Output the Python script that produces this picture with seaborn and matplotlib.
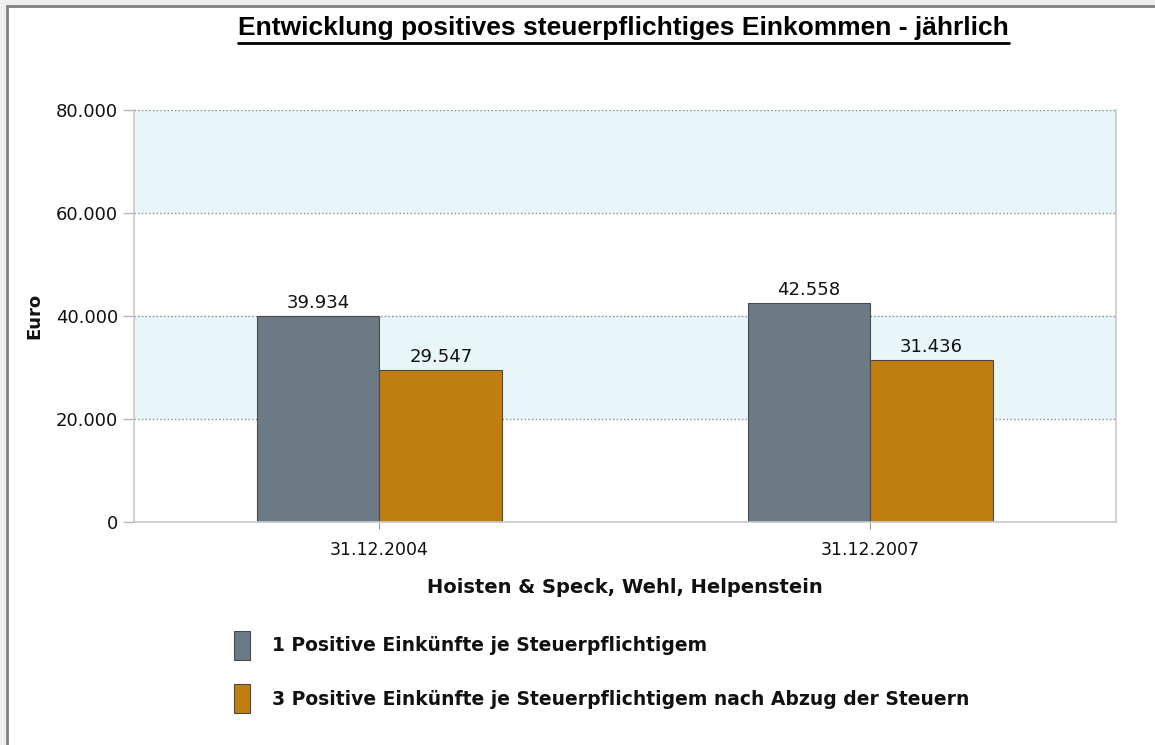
import pandas as pd
import seaborn as sns
import matplotlib.pyplot as plt
from matplotlib.lines import Line2D
from matplotlib.patches import Rectangle

dates = ['31.12.2004', '31.12.2007']
series = ['1 Positive Einkünfte je Steuerpflichtigem',
          '3 Positive Einkünfte je Steuerpflichtigem nach Abzug der Steuern']
einkuenfte = [39934, 42558]
nach_steuern = [29547, 31436]
yticks = [0, 20000, 40000, 60000, 80000]

df = pd.DataFrame({
    'Datum': dates * 2,
    'Euro': einkuenfte + nach_steuern,
    'Reihe': [series[0]] * len(dates) + [series[1]] * len(dates),
})

def de_fmt(v):
    return f'{v:,.0f}'.replace(',', '.')

sns.set_style('white')
plt.rcParams['font.family'] = ['DejaVu Sans']
plt.rcParams['text.color'] = '#111111'
plt.rcParams['axes.labelcolor'] = '#111111'

W, H = 1155, 745
fig = plt.figure(figsize=(W / 100, H / 100), dpi=100, facecolor='#EFEFF2')

# white page with dark top/left border like the screenshot
fig.add_artist(Rectangle((7 / W, 0), 1, 1 - 7 / H, transform=fig.transFigure,
                         facecolor='white', edgecolor='none', zorder=-10))
fig.add_artist(Line2D([7 / W, 7 / W], [0, 1 - 6 / H], transform=fig.transFigure,
                      color='#808080', lw=2))
fig.add_artist(Line2D([7 / W, 1], [1 - 6 / H, 1 - 6 / H], transform=fig.transFigure,
                      color='#808080', lw=2))

ax = fig.add_axes([0.116, 0.2993, 0.850, 0.553])

# alternating background bands
band = '#E8F6FA'
ax.axhspan(20000, 40000, color=band, zorder=0, lw=0)
ax.axhspan(60000, 80000, color=band, zorder=0, lw=0)

sns.barplot(data=df, x='Datum', y='Euro', hue='Reihe', ax=ax, width=0.5,
            palette=['#6C7A86', '#C07E10'], edgecolor='#4a4a4a', linewidth=0.8,
            saturation=1, errorbar=None, zorder=2)

for c in ax.containers:
    ax.bar_label(c, labels=[de_fmt(v) for v in c.datavalues], padding=3,
                 fontsize=13, color='#111111', family='DejaVu Sans')

ax.set_xlim(-0.5, 1.5)
ax.set_ylim(0, 80000)
ax.set_yticks(yticks)
ax.set_yticklabels([de_fmt(v) for v in yticks], fontsize=13, color='#111111')
ax.tick_params(axis='x', bottom=True, labelsize=12.5, colors='#111111', length=5,
               width=0.8, color='#999999', pad=9)
ax.tick_params(axis='y', left=True, length=8, width=1, color='#B8B8B8', pad=3.5)
ax.grid(axis='y', linestyle=':', color='#888888', linewidth=1, zorder=1)
for side in ['left', 'bottom', 'right']:
    ax.spines[side].set_color('#C8C8C8')
    ax.spines[side].set_linewidth(1.2)
ax.spines['top'].set_visible(False)

ax.set_xlabel('Hoisten & Speck, Wehl, Helpenstein', fontsize=14, fontweight='bold',
              labelpad=13)
ax.set_ylabel('Euro', fontsize=13, fontweight='bold', labelpad=9)

handles, labels = ax.get_legend_handles_labels()
ax.legend(handles, labels, loc='upper left', bbox_to_anchor=(0.188, 0.176),
          bbox_transform=fig.transFigure, frameon=False,
          prop={'weight': 'bold', 'size': 13.5}, handlelength=0.85, handleheight=2.0,
          labelspacing=1.3, handletextpad=1.2)

# title with underline
t = fig.text(0.540, 0.962, 'Entwicklung positives steuerpflichtiges Einkommen - jährlich',
             ha='center', va='center', fontsize=19, fontweight='bold',
             family='Liberation Sans', color='black')
fig.canvas.draw()
bb = t.get_window_extent().transformed(fig.transFigure.inverted())
fig.add_artist(Line2D([bb.x0, bb.x1], [bb.y0 - 0.003, bb.y0 - 0.003],
                      transform=fig.transFigure, color='black', lw=2))

fig.savefig('out.png', dpi=100, facecolor=fig.get_facecolor())
